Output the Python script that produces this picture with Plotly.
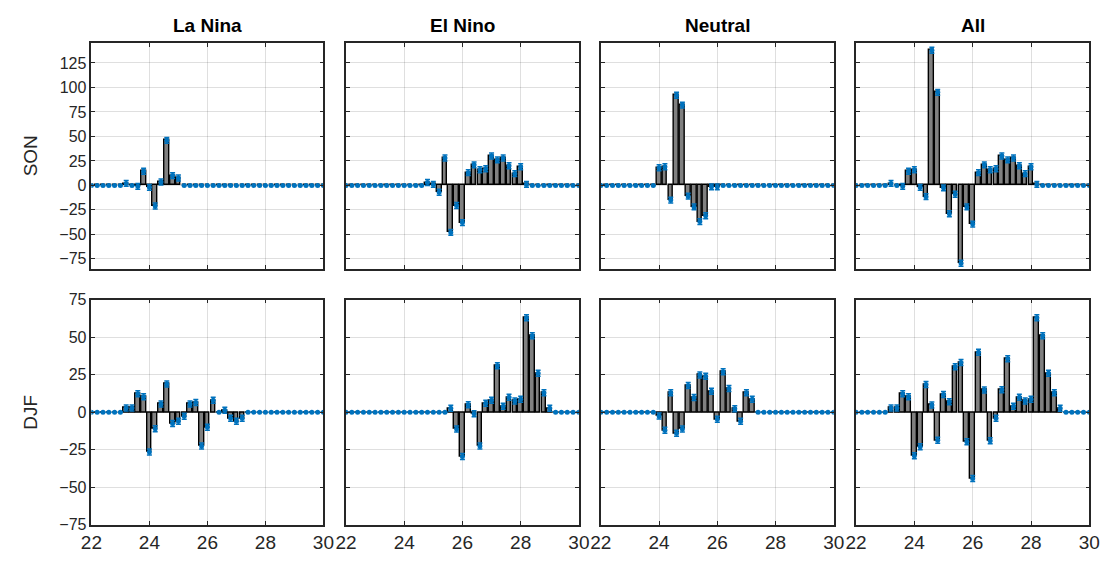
import plotly.graph_objects as go

# SST bins (degC)
sst_bins = [22.0, 22.2, 22.4, 22.6, 22.8, 23.0, 23.2, 23.4, 23.6, 23.8,
            24.0, 24.2, 24.4, 24.6, 24.8, 25.0, 25.2, 25.4, 25.6, 25.8,
            26.0, 26.2, 26.4, 26.6, 26.8, 27.0, 27.2, 27.4, 27.6, 27.8,
            28.0, 28.2, 28.4, 28.6, 28.8, 29.0, 29.2, 29.4, 29.6, 29.8,
            30.0]

columns = ["La Nina", "El Nino", "Neutral", "All"]
seasons = ["SON", "DJF"]

# SON anomalies per bin
son_lanina = [0, 0, 0, 0, 0, 0, 2, 0, -1, 14.5,
              -2, -21, 3.5, 46, 10, 7.5, 0, 0, 0, 0,
              0, 0, 0, 0, 0, 0, 0, 0, 0, 0,
              0, 0, 0, 0, 0, 0, 0, 0, 0, 0,
              0]
son_elnino = [0, 0, 0, 0, 0, 0, 0, 0, 0, 0,
              0, 0, 0, 0, 3, 1, -7, 28, -48, -20.5,
              -38, 13, 21, 16, 17, 30, 26, 28, 20, 12,
              19, 1, 0, 0, 0, 0, 0, 0, 0, 0,
              0]
son_neutral = [0, 0, 0, 0, 0, 0, 0, 0, 0, 0,
               18, 19, -15, 92, 82, -11, -22, -37, -31, -1.5,
               -1.5, 0, 0, 0, 0, 0, 0, 0, 0, 0,
               0, 0, 0, 0, 0, 0, 0, 0, 0, 0,
               0]
son_all = [0, 0, 0, 0, 0, 0, 2, 0, -1, 14.5,
           16, -2, -11.5, 138, 95, -2.5, -29, -9, -79.5, -22,
           -39.5, 13, 21, 16, 17, 30, 26, 28, 20, 12,
           19, 1, 0, 0, 0, 0, 0, 0, 0, 0,
           0]

# DJF anomalies per bin
djf_lanina = [0, 0, 0, 0, 0, 0, 2.8, 2.8, 12.3, 10.3,
              -26.5, -11, 5.4, 18.7, -7.5, -6, -2.8, 5.4, 6.5, -22.5,
              -10, 8, 0, 1.3, -4, -6, -4, 0, 0, 0,
              0, 0, 0, 0, 0, 0, 0, 0, 0, 0,
              0]
djf_elnino = [0, 0, 0, 0, 0, 0, 0, 0, 0, 0,
              0, 0, 0, 0, 0, 0, 0, 0, 2.6, -11.2,
              -29.5, 5, -1, -22.5, 6, 8, 31, 3.9, 10, 7.5,
              8.6, 63, 51, 26, 13, 2.6, 0, 0, 0, 0,
              0]
djf_neutral = [0, 0, 0, 0, 0, 0, 0, 0, 0, 0,
               -2.6, -12, 13, -14, -11.2, 17.7, 9.7, 24.8, 24, 14,
               -4.7, 27, 15.7, 2.2, -6, 13, 8.6, 0, 0, 0,
               0, 0, 0, 0, 0, 0, 0, 0, 0, 0,
               0]
djf_all = [0, 0, 0, 0, 0, 0, 2.8, 2.8, 12.3, 10.3,
           -29.1, -23, 18.4, 4.7, -18.7, 11.7, 6.9, 30.2, 33.1, -19.7,
           -44.2, 40, 14.7, -19, -4, 15, 35.6, 3.9, 10, 7.5,
           8.6, 63, 51, 26, 13, 2.6, 0, 0, 0, 0,
           0]

panels = [
    [son_lanina, son_elnino, son_neutral, son_all],
    [djf_lanina, djf_elnino, djf_neutral, djf_all],
]
# half-length of the uncertainty whiskers, per season
spread = {"SON": 3.0, "DJF": 2.0}
y_ranges = {"SON": [-85, 145.5], "DJF": [-75, 75]}
y_ticks = {"SON": [-75, -50, -25, 0, 25, 50, 75, 100, 125],
           "DJF": [-75, -50, -25, 0, 25, 50, 75]}
x_ticks = [22, 24, 26, 28, 30]

W, H = 1118, 565
col_px = [(82, 318.7), (341.7, 579.3), (601.7, 839.3), (862, 1100)]
row_px = [(36, 268.7), (300.7, 532.7)]

BLUE = "#0072BD"
INK = "#262626"
GRID = "rgba(38,38,38,0.15)"
FONT = "Liberation Sans, Arial, sans-serif"

fig = go.Figure()
layout = {}

for r, season in enumerate(seasons):
    for c, name in enumerate(columns):
        k = r * 4 + c + 1
        xa = "x" if k == 1 else f"x{k}"
        ya = "y" if k == 1 else f"y{k}"
        vals = panels[r][c]
        err = [spread[season] if v != 0 else 0 for v in vals]

        fig.add_trace(go.Bar(
            x=sst_bins, y=vals, xaxis=xa, yaxis=ya, width=0.16,
            marker=dict(color="#808080", line=dict(color="black", width=1.4)),
            showlegend=False, hoverinfo="skip",
        ))
        fig.add_trace(go.Scatter(
            x=sst_bins, y=vals, xaxis=xa, yaxis=ya, mode="markers",
            marker=dict(color=BLUE, size=5),
            error_y=dict(type="data", array=err, visible=True,
                         color=BLUE, thickness=1.5, width=2.5),
            showlegend=False,
        ))

        x0, x1 = col_px[c]
        y0, y1 = row_px[r]
        layout["xaxis" if k == 1 else f"xaxis{k}"] = dict(
            domain=[x0 / W, x1 / W], anchor=ya, range=[22, 30],
            tickvals=x_ticks, showticklabels=(r == 1),
            ticks="inside", ticklen=4, tickcolor=INK,
            showline=True, linecolor=INK, linewidth=1.5, mirror="ticks",
            showgrid=True, gridcolor=GRID, gridwidth=1, zeroline=False,
            tickfont=dict(family=FONT, size=19, color=INK),
        )
        layout["yaxis" if k == 1 else f"yaxis{k}"] = dict(
            domain=[1 - y1 / H, 1 - y0 / H], anchor=xa,
            range=y_ranges[season], tickvals=y_ticks[season],
            showticklabels=(c == 0),
            ticks="inside", ticklen=4, tickcolor=INK,
            showline=True, linecolor=INK, linewidth=1.5, mirror="ticks",
            showgrid=True, gridcolor=GRID, gridwidth=1, zeroline=False,
            tickfont=dict(family=FONT, size=16, color=INK),
        )

annotations = []
for c, name in enumerate(columns):
    x0, x1 = col_px[c]
    annotations.append(dict(
        x=(x0 + x1) / 2 / W, y=1 - 18 / H, xref="paper", yref="paper",
        text=f"<b>{name}</b>", showarrow=False,
        font=dict(family=FONT, size=19, color="black"),
        xanchor="center", yanchor="middle",
    ))
for r, season in enumerate(seasons):
    y0, y1 = row_px[r]
    annotations.append(dict(
        x=20 / W, y=1 - (y0 + y1) / 2 / H, xref="paper", yref="paper",
        text=season, showarrow=False, textangle=-90,
        font=dict(family=FONT, size=19, color=INK),
        xanchor="center", yanchor="middle",
    ))

fig.update_layout(
    **layout,
    annotations=annotations,
    width=W, height=H,
    margin=dict(l=0, r=0, t=0, b=0),
    paper_bgcolor="white", plot_bgcolor="white",
    barmode="overlay", bargap=0,
)

fig.write_html("out.html")
